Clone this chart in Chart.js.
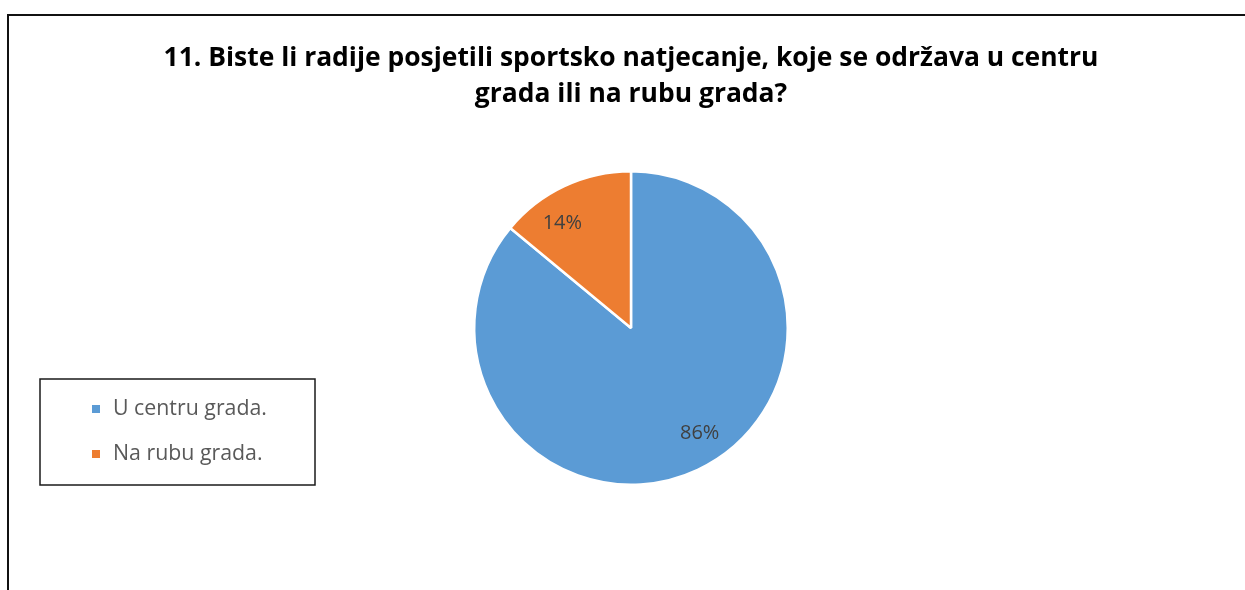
<!DOCTYPE html>
<html>
<head>
<meta charset="utf-8">
<title>Sportsko natjecanje - lokacija</title>
<script src="https://cdn.jsdelivr.net/npm/chart.js@4.4.0/dist/chart.umd.min.js"></script>
<style>
    html, body { margin: 0; padding: 0; background: #ffffff; }
    #wrap { position: relative; width: 1245px; height: 590px; }
</style>
</head>
<body>
<div id="wrap"><canvas id="pieChart" width="1245" height="590"></canvas></div>
<script>
// Podaci grafikona
const titleLines = [
    '11. Biste li radije posjetili sportsko natjecanje, koje se održava u centru',
    'grada ili na rubu grada?'
];
const categories = ['U centru grada.', 'Na rubu grada.'];
const shares = [86, 14];
const sliceColors = ['#5b9bd5', '#ed7d31'];

const FONT = "'Open Sans', 'Liberation Sans', sans-serif";

// Velicina fonta koja daje zadanu sirinu teksta
function fitSize(ctx, text, weight, targetWidth) {
    ctx.font = `${weight} 100px ${FONT}`;
    return 100 * targetWidth / ctx.measureText(text).width;
}

// Okvir, naslov i legenda u stilu Excel grafikona
const decorations = {
    id: 'decorations',
    beforeDraw(chart) {
        const { ctx } = chart;
        ctx.save();
        ctx.fillStyle = '#ffffff';
        ctx.fillRect(0, 0, chart.width, chart.height);
        ctx.strokeStyle = '#111111';
        ctx.lineWidth = 2;
        ctx.strokeRect(8, 15, chart.width + 50, chart.height + 50);
        ctx.restore();
    },
    afterDraw(chart) {
        const { ctx } = chart;
        ctx.save();

        // naslov
        const titleSize = fitSize(ctx, titleLines[0], 'bold', 935);
        ctx.font = `bold ${titleSize}px ${FONT}`;
        ctx.fillStyle = '#000000';
        ctx.textAlign = 'center';
        ctx.textBaseline = 'alphabetic';
        titleLines.forEach((line, i) => ctx.fillText(line, 631, 66 + i * 36));

        // legenda
        ctx.strokeStyle = '#1a1a1a';
        ctx.lineWidth = 1.5;
        ctx.strokeRect(40, 379, 275, 106);
        const legendSize = fitSize(ctx, categories[0], 'normal', 154);
        ctx.font = `${legendSize}px ${FONT}`;
        ctx.textAlign = 'left';
        ctx.textBaseline = 'middle';
        categories.forEach((label, i) => {
            const y = 409 + i * 45;
            ctx.fillStyle = sliceColors[i];
            ctx.fillRect(92, y - 4, 8, 8);
            ctx.fillStyle = '#595959';
            ctx.fillText(label, 113, y);
        });
        ctx.restore();
    },
    // Postotci na isjeccima
    afterDatasetsDraw(chart) {
        const { ctx } = chart;
        const meta = chart.getDatasetMeta(0);
        const total = shares.reduce((s, v) => s + v, 0);
        ctx.save();
        ctx.font = `20px ${FONT}`;
        ctx.fillStyle = '#404040';
        ctx.textAlign = 'center';
        ctx.textBaseline = 'middle';
        meta.data.forEach((arc, i) => {
            const mid = (arc.startAngle + arc.endAngle) / 2 - 8 * Math.PI / 180;
            const r = arc.outerRadius * 0.8;
            const pct = Math.round(shares[i] / total * 100);
            ctx.fillText(pct + '%', arc.x + Math.cos(mid) * r, arc.y + Math.sin(mid) * r);
        });
        ctx.restore();
    }
};

new Chart(document.getElementById('pieChart').getContext('2d'), {
    type: 'pie',
    plugins: [decorations],
    data: {
        labels: categories,
        datasets: [{
            data: shares,
            backgroundColor: sliceColors,
            borderColor: '#ffffff',
            borderWidth: 2.5
        }]
    },
    options: {
        responsive: false,
        animation: false,
        events: [],
        layout: { padding: { top: 170, bottom: 104, left: 473, right: 456 } },
        plugins: {
            legend: { display: false },
            title: { display: false },
            tooltip: { enabled: false }
        }
    }
});
</script>
</body>
</html>
